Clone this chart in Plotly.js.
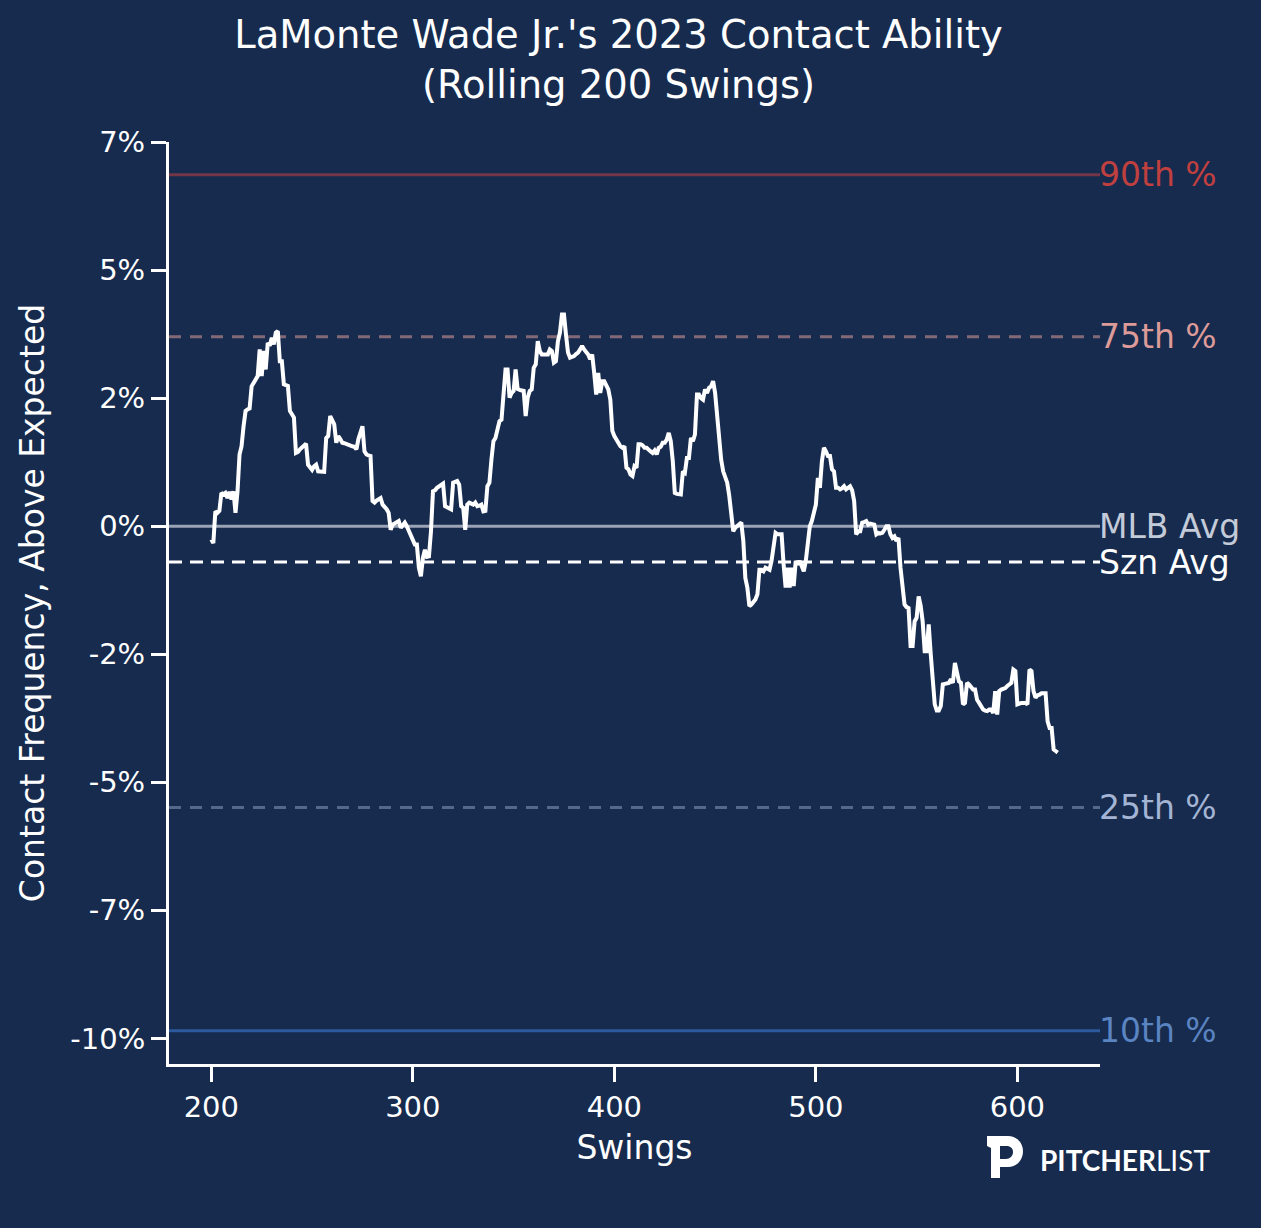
<!DOCTYPE html>
<html>
<head>
<meta charset="utf-8">
<script src="https://cdn.plot.ly/plotly-3.0.1.min.js"></script>
<style>
  html, body { margin: 0; padding: 0; background: #172b4e; }
  #chart { width: 1261px; height: 1228px; }
</style>
</head>
<body>
<div id="chart"></div>
<script>
// ---- data ----
const firstSwing = 200;   // rolling window ends at swing 200, step 1
const contactAboveExp = [
  -0.26,-0.33,0.29,0.26,0.30,0.65,0.62,0.65,0.55,0.67,
  0.52,0.68,0.26,0.68,1.40,1.56,1.95,2.25,2.28,2.30,
  2.73,2.80,2.86,2.93,3.45,2.93,3.42,3.06,3.58,3.52,
  3.68,3.55,3.78,3.81,3.22,3.22,2.77,2.75,2.74,2.25,
  2.18,2.12,1.43,1.45,1.50,1.53,1.56,1.61,1.20,1.15,
  1.10,1.17,1.20,1.07,1.07,1.06,1.06,1.72,1.76,2.15,
  2.05,1.99,1.63,1.76,1.70,1.63,1.62,1.60,1.58,1.57,
  1.56,1.55,1.50,1.70,1.86,1.95,1.46,1.40,1.38,1.37,
  0.49,0.46,0.50,0.53,0.55,0.42,0.38,0.33,0.26,-0.07,
  0.03,0.05,0.08,0.10,-0.03,0.02,0.07,0.00,-0.10,-0.16,
  -0.30,-0.36,-0.36,-0.81,-0.98,-0.62,-0.46,-0.60,-0.59,-0.10,
  0.68,0.70,0.75,0.77,0.80,0.83,0.39,0.37,0.36,0.33,
  0.85,0.87,0.88,0.81,0.39,0.36,-0.07,0.42,0.46,0.44,
  0.42,0.46,0.39,0.40,0.42,0.29,0.30,0.78,0.85,1.30,
  1.66,1.72,1.90,2.05,2.08,2.60,3.06,3.06,2.51,2.60,
  2.64,3.06,2.68,2.66,2.64,2.64,2.15,2.51,2.64,2.67,
  3.09,3.16,3.61,3.42,3.35,3.35,3.35,3.35,3.45,3.42,
  3.19,3.22,3.61,3.78,4.13,4.13,3.74,3.39,3.29,3.30,
  3.32,3.36,3.39,3.45,3.52,3.45,3.40,3.35,3.26,3.35,
  2.99,2.57,2.99,2.60,2.83,2.83,2.75,2.67,2.47,1.86,
  1.76,1.69,1.60,1.56,1.53,1.56,1.14,1.11,1.01,0.98,
  1.17,1.14,1.60,1.60,1.58,1.53,1.53,1.48,1.46,1.43,
  1.48,1.40,1.53,1.55,1.63,1.63,1.69,1.82,1.66,1.27,
  0.65,0.63,0.62,0.62,1.07,1.04,1.33,1.33,1.72,1.66,
  1.79,2.57,2.57,2.50,2.47,2.67,2.60,2.70,2.73,2.83,
  2.60,2.12,1.66,1.30,1.07,0.98,0.85,0.60,0.16,-0.10,
  -0.03,0.00,0.03,0.07,-0.29,-1.01,-1.20,-1.56,-1.53,-1.48,
  -1.43,-1.33,-0.85,-0.85,-0.88,-0.81,-0.83,-0.85,-0.68,-0.42,
  -0.13,-0.16,-0.15,-0.16,-0.75,-1.20,-0.81,-1.20,-0.81,-1.17,
  -0.68,-0.75,-0.68,-0.81,-0.88,-0.68,-0.23,0.00,0.10,0.30,
  0.42,0.94,0.75,1.27,1.53,1.46,1.37,1.37,1.11,1.07,
  0.75,0.75,0.72,0.74,0.78,0.72,0.74,0.78,0.70,0.49,
  -0.16,-0.10,-0.10,0.07,0.08,0.10,0.03,0.05,0.04,0.03,
  -0.16,-0.13,-0.14,-0.13,-0.07,0.00,0.00,-0.16,-0.23,-0.20,
  -0.29,-0.23,-0.81,-1.20,-1.53,-1.58,-1.60,-2.34,-2.34,-1.86,
  -1.79,-1.37,-1.55,-1.86,-2.44,-2.44,-1.92,-2.50,-2.90,-3.48,
  -3.60,-3.60,-3.51,-3.09,-3.08,-3.06,-3.06,-2.99,-3.06,-2.67,
  -2.83,-3.03,-3.06,-3.48,-3.45,-3.06,-3.09,-3.15,-3.19,-3.19,
  -3.39,-3.45,-3.51,-3.58,-3.60,-3.61,-3.58,-3.58,-3.65,-3.22,
  -3.68,-3.22,-3.19,-3.18,-3.16,-3.12,-3.10,-3.06,-2.80,-2.83,
  -3.48,-3.46,-3.45,-3.45,-3.45,-3.48,-2.80,-2.83,-3.22,-3.35,
  -3.30,-3.29,-3.26,-3.26,-3.26,-3.81,-3.94,-3.94,-4.36,-4.39,
  -4.42
];

const refLabels = ['90th %', '75th %', 'MLB Avg', 'Szn Avg', '25th %', '10th %'];
const refValues = [6.86, 3.70, 0.00, -0.70, -5.49, -9.85];

const yTickVals = [7.5, 5, 2.5, 0, -2.5, -5, -7.5, -10];
const yTickText = ['7%', '5%', '2%', '0%', '-2%', '-5%', '-7%', '-10%'];
const xTickVals = [200, 300, 400, 500, 600];
const xTickText = ['200', '300', '400', '500', '600'];

// ---- styles ----
const BG = '#172b4e';
const FONT = 'DejaVu Sans, sans-serif';
const refStyles = [
  { line: 'rgba(192,64,66,0.55)',  dash: 'solid',      text: '#c0403f' },
  { line: 'rgba(220,154,152,0.55)', dash: '12px,9px',  text: '#dc9a98' },
  { line: 'rgba(200,206,218,0.75)', dash: 'solid',     text: '#c3cad8' },
  { line: '#ffffff',               dash: '13px,8px',   text: '#ffffff' },
  { line: 'rgba(160,180,212,0.45)', dash: '12px,9px',  text: '#a3b4d4' },
  { line: '#2c5a9c',               dash: 'solid',      text: '#5a84c2' }
];

// plot area in pixels
const W = 1261, H = 1228;
const M = { l: 169, r: 161, t: 142, b: 164 };
const PW = W - M.l - M.r, PH = H - M.t - M.b;
const px2x = X => (X - M.l) / PW;
const px2y = Y => (H - M.b - Y) / PH;

const shapes = refValues.map((v, i) => ({
  type: 'line', xref: 'paper', x0: 0, x1: 1, yref: 'y', y0: v, y1: v,
  layer: 'below',
  line: { color: refStyles[i].line, width: 3, dash: refStyles[i].dash }
}));

// Pitcher List "P" mark (pixel outline converted to paper coords)
function P(x, y) { return px2x(x).toFixed(5) + ',' + px2y(y).toFixed(5); }
const logoPath =
  'M' + P(987,1136) + ' L' + P(1008,1136) +
  ' C' + P(1017,1136) + ' ' + P(1023,1143) + ' ' + P(1023,1151) +
  ' C' + P(1023,1160) + ' ' + P(1017,1167) + ' ' + P(1008,1167) +
  ' L' + P(1000,1167) + ' L' + P(1000,1178) + ' L' + P(991,1178) +
  ' L' + P(991,1148) + ' L' + P(987,1146) + ' Z' +
  ' M' + P(1000,1146) + ' L' + P(1006,1146) +
  ' C' + P(1010,1146) + ' ' + P(1013,1148) + ' ' + P(1013,1152) +
  ' C' + P(1013,1156) + ' ' + P(1010,1159) + ' ' + P(1006,1159) +
  ' L' + P(1000,1159) + ' Z';
shapes.push({
  type: 'path', xref: 'paper', yref: 'paper', path: logoPath,
  fillcolor: '#ffffff', fillrule: 'evenodd', line: { width: 0 }, layer: 'above'
});

const annotations = refValues.map((v, i) => ({
  xref: 'paper', x: 1, xanchor: 'left', xshift: -3,
  yref: 'y', y: v, yanchor: 'middle',
  text: refLabels[i], showarrow: false,
  font: { family: FONT, size: 33, color: refStyles[i].text }
}));
annotations.push({
  xref: 'paper', x: px2x(1038), xanchor: 'left',
  yref: 'paper', y: px2y(1160), yanchor: 'middle',
  text: '<b>PITCHER</b>LIST', showarrow: false,
  font: { family: 'Lato, sans-serif', size: 28, color: '#ffffff' }
});

const trace = {
  type: 'scatter', mode: 'lines',
  x0: firstSwing, dx: 1, y: contactAboveExp,
  line: { color: '#ffffff', width: 4 },
  hoverinfo: 'x+y'
};

const layout = {
  width: W, height: H,
  paper_bgcolor: BG, plot_bgcolor: BG,
  margin: M,
  showlegend: false,
  font: { family: FONT, color: '#ffffff' },
  title: {
    text: "LaMonte Wade Jr.'s 2023 Contact Ability<br>(Rolling 200 Swings)",
    font: { family: FONT, size: 38.5, color: '#ffffff' },
    xref: 'container', x: 618.5 / W, xanchor: 'center',
    yref: 'container', y: 1 - 48 / H, yanchor: 'middle'
  },
  xaxis: {
    range: [179, 641],
    tickvals: xTickVals, ticktext: xTickText,
    showgrid: false, zeroline: false,
    showline: true, linecolor: '#ffffff', linewidth: 3,
    ticks: 'outside', ticklen: 15, tickwidth: 3, tickcolor: '#ffffff',
    tickfont: { family: FONT, size: 29, color: '#ffffff' },
    title: { text: 'Swings', font: { family: FONT, size: 33, color: '#ffffff' }, standoff: 14 }
  },
  yaxis: {
    range: [-10.5, 7.5],
    tickvals: yTickVals, ticktext: yTickText,
    showgrid: false, zeroline: false,
    showline: true, linecolor: '#ffffff', linewidth: 3,
    ticks: 'outside', ticklen: 15, tickwidth: 3, tickcolor: '#ffffff',
    tickfont: { family: FONT, size: 29, color: '#ffffff' },
    title: { text: 'Contact Frequency, Above Expected', font: { family: FONT, size: 33, color: '#ffffff' }, standoff: 16 }
  },
  shapes: shapes,
  annotations: annotations
};

Plotly.newPlot('chart', [trace], layout, { displayModeBar: false, staticPlot: true });
</script>
</body>
</html>
